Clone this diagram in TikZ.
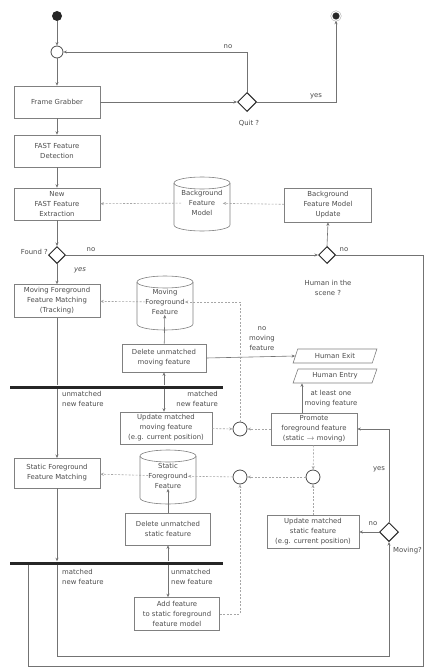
\documentclass[tikz,border=0pt]{standalone}
\usepackage{fontspec}
\setmainfont{DejaVu Sans}
\usetikzlibrary{arrows.meta,shapes.geometric}
\newcommand\mycyl[4]{%
  \draw[boxline,fill=white] (#2-28,#3-21) -- (#2-28,#3+21) arc[start angle=180,end angle=0,x radius=28,y radius=6] -- (#2+28,#3-21);
  \draw[boxline] (#2,#3-21) ellipse[x radius=28, y radius=6];
  \node[align=center, inner sep=0pt] (#1) at (#2,#3-1) {#4};}
\begin{document}
\begin{tikzpicture}[x=1pt,y=-1pt,
  every node/.style={font=\fontsize{6.9}{10}\selectfont, text=black!70, inner sep=1pt},
  boxline/.style={draw=black!50, line width=0.6pt},
  box/.style={boxline, rectangle, align=center, minimum width=86, minimum height=32, inner sep=1pt},
  ln/.style={draw=black!55, line width=0.6pt},
  arr/.style={ln, -{Stealth[length=3.5pt,width=3pt]}},
  dot/.style={draw=black!35, line width=0.6pt, dash pattern=on 2pt off 1.5pt, -{Stealth[length=3.5pt,width=3pt]}},
  dec/.style={diamond, draw=black!85, line width=1pt, minimum size=19, inner sep=0pt},
  merge/.style={circle, draw=black!70, line width=0.8pt, minimum size=14, inner sep=0pt},
  bar/.style={rectangle, fill=black!85, minimum width=213, minimum height=3, inner sep=0pt},
  io/.style={trapezium, trapezium left angle=65, trapezium right angle=115, trapezium stretches=true, boxline, minimum width=84, minimum height=14, inner sep=0pt},
  lab/.style={align=center}
]
\useasboundingbox (0,0) rectangle (428,669);
\fill[white] (0,0) rectangle (428,669);

% top part
\node[circle, fill=black!85, minimum size=10, inner sep=0pt] (start) at (57,16) {};
\node[circle, fill=black!85, draw=black!40, double=white, double distance=1pt, minimum size=9, inner sep=0pt] (end) at (336,16) {};
\node[merge, minimum size=12] (m0) at (57,52) {};
\node[box] (fg) at (57,102) {Frame Grabber};
\node[dec] (quit) at (247,102) {};
\node[lab] at (249,123) {Quit ?};
\node[box] (fd) at (57,151) {FAST Feature\\Detection};
\node[box] (nfe) at (57,204) {New\\FAST Feature\\Extraction};
\mycyl{bgm}{202}{204}{Background\\Feature\\Model}
\node[box, minimum width=87, minimum height=34] (bgu) at (328,205) {Background\\Feature Model\\Update};
\node[dec, minimum size=17] (found) at (57,255) {};
\node[lab, anchor=east] at (49,252) {Found ?};
\node[dec, minimum size=17] (human) at (327,255) {};
\node[lab] at (328,288) {Human in the\\scene ?};

\draw[arr] (start) -- (m0);
\draw[arr] (m0) -- (fg);
\draw[arr] (fg) -- (quit);
\draw[arr] (quit.north) |- (m0);
\node[lab] at (228,47) {no};
\draw[arr] (quit.east) -| (end);
\node[lab] at (316,96) {yes};
\draw[arr] (fg) -- (fd);
\draw[arr] (fd) -- (nfe);
\draw[arr] (nfe) -- (found);
\draw[dot] (bgm) -- (nfe);
\draw[dot] (bgu) -- (bgm);
\draw[arr] (found.east) -- (human.west);
\node[lab] at (91,250) {no};
\draw[arr] (human.north) -- (bgu.south);
\node[lab] at (344,250) {no};
\draw[ln] (human.east) -- (423,255) -- (423,666) -- (28,666) -- (28,563);

% moving part
\node[box, minimum height=33] (mfm) at (57,301) {Moving Foreground\\Feature Matching\\(Tracking)};
\node[lab, font=\fontsize{6.9}{10}\selectfont\itshape] at (80,270) {yes};
\mycyl{mfc}{165}{303}{Moving\\Foreground\\Feature}
\node[box, minimum width=84, minimum height=28] (dmm) at (164,358) {Delete unmatched\\moving feature};
\node[io] (hexit) at (335,356) {Human Exit};
\node[io] (hentry) at (335,376) {Human Entry};
\node[bar] (tb) at (116,387) {};
\node[box, minimum width=92] (umm) at (166,428) {Update matched\\moving feature\\(e.g. current position)};
\node[merge] (c1) at (240,429) {};
\node[box] (promote) at (314,429) {Promote\\foreground feature\\(static $\rightarrow$ moving)};

\draw[arr] (found.south) -- (mfm.north);
\draw[dot] (mfc) -- (mfm);
\draw[ln] (mfm.south) -- (mfm.south |- tb.north);
\draw[arr] (mfm.south |- tb.south) -- (57,458);
\node[lab, align=left, anchor=west] at (61,399) {unmatched\\new feature};
\draw[arr] (dmm.south |- tb.north) -- (dmm.south);
\draw[arr] (dmm) -- (mfc);
\draw[arr] (dmm.south |- tb.south) -- (dmm.south |- umm.north);
\node[lab, align=right, anchor=east] at (219,399) {matched\\new feature};
\draw[arr] (dmm.east) -- (hexit.west);
\node[lab] at (262,339) {no\\moving\\feature};
\draw[arr] ([xshift=-12pt]promote.north) -- ([xshift=-12pt]promote.north |- hentry.south);
\node[lab] at (331,399) {at least one\\moving feature};
\draw[dot] (umm) -- (c1);
\draw[dot] (promote) -- (c1);
\draw[dot] (c1.north) |- (mfc.east);

% static part
\node[box, minimum height=30] (sfm) at (57,473) {Static Foreground\\Feature Matching};
\mycyl{sfc}{168}{477}{Static\\Foreground\\Feature}
\node[merge] (c2) at (240,477) {};
\node[merge] (c3) at (313,477) {};
\node[box, minimum width=85] (dms) at (168,529) {Delete unmatched\\static feature};
\node[box, minimum width=92, minimum height=33] (ust) at (313,532) {Update matched\\static feature\\(e.g. current position)};
\node[dec] (moving) at (389,532) {};
\node[lab, anchor=west] at (392,551) {Moving?};
\node[bar] (lb) at (116,563) {};
\node[box, minimum width=85, minimum height=33] (afs) at (177,614) {Add feature\\to static foreground\\feature model};

\draw[dot] (sfc) -- (sfm);
\draw[dot] (c2) -- (sfc);
\draw[dot] (c3) -- (c2);
\draw[dot] (promote) -- (c3);
\draw[dot] (ust) -- (c3);
\draw[arr] (moving.west) -- (ust.east);
\node[lab] at (373,524) {no};
\draw[arr] (moving.north) |- (promote.east);
\node[lab] at (379,469) {yes};
\draw[arr] (dms) -- (sfc);
\draw[arr] (sfm.south) -- (sfm.south |- lb.north);
\draw[arr] (dms.south |- lb.north) -- (dms.south);
\draw[arr] (dms.south |- lb.south) -- (dms.south |- afs.north);
\node[lab, align=left, anchor=west] at (170,577) {unmatched\\new feature};
\draw[dot] (afs.east) -| (c2.south);
\draw[arr] (sfm.south |- lb.south) -- (57,656) -| (moving.south);
\node[lab, align=left, anchor=west] at (61,577) {matched\\new feature};
\end{tikzpicture}
\end{document}
